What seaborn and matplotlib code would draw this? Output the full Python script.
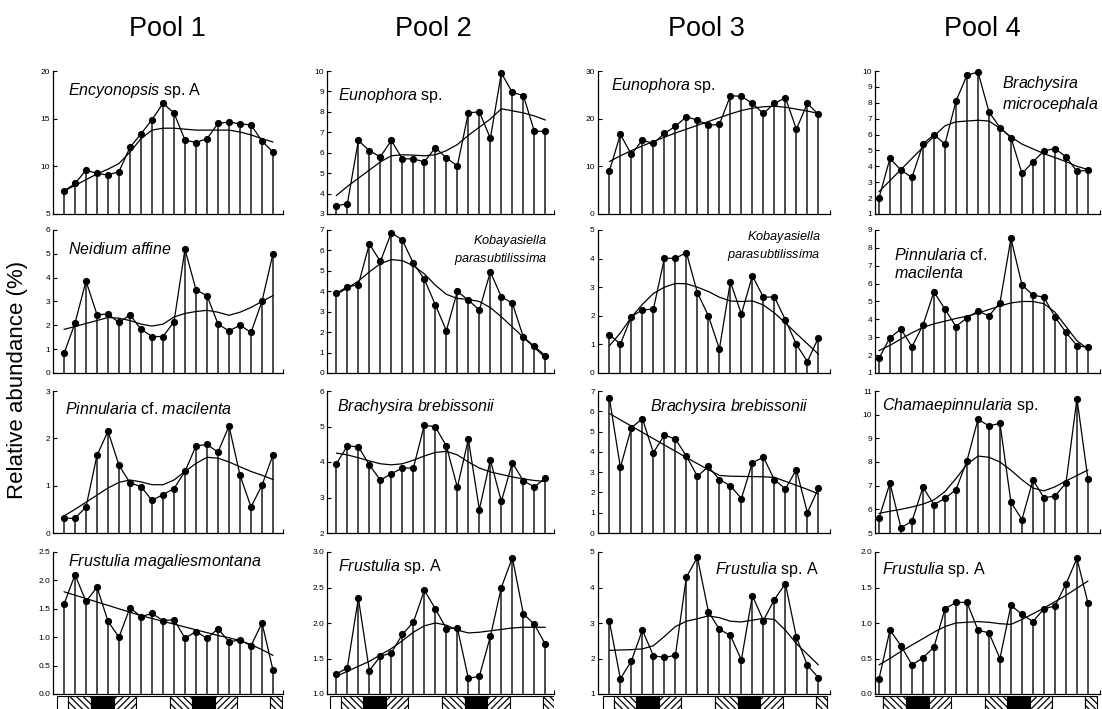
import numpy as np
import matplotlib
matplotlib.use("Agg")
import matplotlib.pyplot as plt
import seaborn as sns
from matplotlib.ticker import FormatStrFormatter

# ---------------------------------------------------------------- data
sample = np.arange(20)
pools = ["Pool 1", "Pool 2", "Pool 3", "Pool 4"]

# Row 1
p1_encyonopsis = [7.4, 8.2, 9.6, 9.25, 9.1, 9.45, 12.0, 13.4, 14.9, 16.6,
                  15.6, 12.75, 12.5, 12.9, 14.5, 14.65, 14.45, 14.35, 12.65, 11.5]
p1_encyonopsis_fit = [7.4, 8.0, 8.6, 9.2, 9.7, 10.3, 11.5, 12.9, 13.8, 14.0,
                      14.0, 13.9, 13.8, 13.8, 13.8, 13.8, 13.6, 13.3, 12.9, 12.55]
p2_eunophora = [3.4, 3.5, 6.6, 6.1, 5.8, 6.6, 5.7, 5.7, 5.55, 6.25,
                5.75, 5.35, 7.95, 8.0, 6.7, 9.9, 8.95, 8.8, 7.05, 7.05]
p2_eunophora_fit = [3.9, 4.35, 4.75, 5.15, 5.55, 5.85, 5.9, 5.88, 5.85, 5.9,
                    6.1, 6.4, 6.85, 7.25, 7.65, 8.15, 8.05, 7.95, 7.8, 7.6]
p3_eunophora = [9.0, 16.7, 12.5, 15.5, 14.8, 16.9, 18.4, 20.4, 19.7, 18.6,
                18.8, 24.8, 24.7, 23.2, 21.1, 23.2, 24.4, 17.8, 23.2, 20.9]
p3_eunophora_fit = [11.0, 12.2, 13.3, 14.3, 15.2, 16.1, 17.0, 17.8, 18.6, 19.4,
                    20.2, 21.0, 21.7, 22.2, 22.5, 22.6, 22.4, 22.0, 21.6, 21.1]
p4_microcephala = [2.0, 4.5, 3.76, 3.3, 5.4, 6.0, 5.4, 8.1, 9.73, 9.94,
                   7.43, 6.44, 5.81, 3.55, 4.28, 4.97, 5.12, 4.6, 3.68, 3.76]
p4_microcephala_fit = [2.4, 3.1, 3.8, 4.5, 5.2, 5.9, 6.55, 6.8, 6.85, 6.9,
                       6.85, 6.4, 5.85, 5.4, 5.1, 4.8, 4.55, 4.3, 4.0, 3.8]

# Row 2
p1_neidium = [0.82, 2.09, 3.86, 2.45, 2.47, 2.12, 2.44, 1.84, 1.53, 1.53,
              2.15, 5.19, 3.49, 3.24, 2.06, 1.76, 2.01, 1.7, 3.01, 5.01]
p1_neidium_fit = [1.83, 1.95, 2.08, 2.2, 2.33, 2.3, 2.2, 2.05, 1.97, 2.05,
                  2.35, 2.5, 2.58, 2.63, 2.55, 2.42, 2.55, 2.75, 3.0, 3.25]
p2_kobayasiella = [3.9, 4.22, 4.32, 6.32, 5.46, 6.87, 6.51, 5.37, 4.59, 3.34,
                   2.07, 3.99, 3.57, 3.08, 4.95, 3.73, 3.42, 1.76, 1.3, 0.85]
p2_kobayasiella_fit = [3.86, 4.15, 4.5, 4.95, 5.35, 5.55, 5.5, 5.25, 4.85, 4.3,
                       3.85, 3.65, 3.6, 3.5, 3.2, 2.75, 2.25, 1.75, 1.25, 0.75]
p3_kobayasiella = [1.34, 1.01, 1.97, 2.21, 2.23, 4.01, 4.01, 4.21, 2.81, 2.0,
                   0.84, 3.19, 2.06, 3.4, 2.65, 2.66, 1.86, 1.0, 0.4, 1.23]
p3_kobayasiella_fit = [0.95, 1.4, 1.95, 2.4, 2.78, 3.0, 3.13, 3.12, 3.0, 2.85,
                       2.65, 2.52, 2.5, 2.52, 2.38, 2.1, 1.75, 1.38, 1.02, 0.66]
p4_pinnularia = [1.82, 2.97, 3.46, 2.47, 3.68, 5.54, 4.57, 3.6, 4.09, 4.46,
                 4.2, 4.93, 8.53, 5.93, 5.36, 5.24, 4.13, 3.27, 2.53, 2.43]
p4_pinnularia_fit = [2.25, 2.55, 2.9, 3.25, 3.55, 3.75, 3.9, 4.05, 4.18, 4.35,
                     4.55, 4.75, 4.92, 5.0, 5.0, 4.88, 4.4, 3.6, 2.8, 2.35]

# Row 3
p1_pinnularia = [0.31, 0.31, 0.55, 1.64, 2.15, 1.43, 1.06, 0.98, 0.69, 0.81,
                 0.94, 1.3, 1.84, 1.87, 1.71, 2.26, 1.22, 0.55, 1.01, 1.65]
p1_pinnularia_fit = [0.36, 0.5, 0.65, 0.8, 0.95, 1.07, 1.12, 1.08, 1.02, 1.02,
                     1.12, 1.3, 1.47, 1.6, 1.58, 1.5, 1.4, 1.3, 1.22, 1.13]
p2_brebissonii = [3.95, 4.45, 4.43, 3.92, 3.49, 3.67, 3.83, 3.83, 5.04, 4.99,
                  4.45, 3.29, 4.64, 2.66, 4.06, 2.89, 3.98, 3.47, 3.3, 3.55]
p2_brebissonii_fit = [4.25, 4.2, 4.12, 4.03, 3.95, 3.92, 3.95, 4.05, 4.17, 4.27,
                      4.3, 4.2, 4.0, 3.83, 3.72, 3.65, 3.58, 3.52, 3.48, 3.45]
p3_brebissonii = [6.66, 3.23, 5.19, 5.64, 3.96, 4.83, 4.63, 3.8, 2.79, 3.28,
                  2.63, 2.33, 1.7, 3.46, 3.74, 2.63, 2.17, 3.12, 1.0, 2.2]
p3_brebissonii_fit = [5.89, 5.58, 5.27, 4.96, 4.65, 4.34, 4.03, 3.72, 3.42, 3.12,
                      2.84, 2.8, 2.79, 2.78, 2.77, 2.74, 2.55, 2.35, 2.15, 1.93]
p4_chamaepinnularia = [5.62, 7.11, 5.22, 5.5, 6.93, 6.2, 6.46, 6.83, 8.05, 9.8,
                       9.53, 9.63, 6.3, 5.57, 7.24, 6.49, 6.56, 7.11, 10.68, 7.27]
p4_chamaepinnularia_fit = [5.83, 5.92, 6.0, 6.1, 6.22, 6.4, 6.75, 7.3, 7.9, 8.25,
                           8.2, 8.0, 7.65, 7.25, 6.9, 6.78, 6.95, 7.2, 7.43, 7.66]

# Row 4
p1_frustulia = [1.58, 2.1, 1.63, 1.88, 1.28, 1.0, 1.52, 1.36, 1.42, 1.29,
                1.31, 0.98, 1.1, 0.98, 1.15, 0.92, 0.95, 0.85, 1.25, 0.42]
p1_frustulia_fit = [1.8, 1.74, 1.68, 1.62, 1.56, 1.5, 1.44, 1.38, 1.33, 1.28,
                    1.23, 1.18, 1.13, 1.08, 1.03, 0.99, 0.94, 0.87, 0.78, 0.68]
p2_frustulia = [1.28, 1.37, 2.35, 1.33, 1.53, 1.58, 1.84, 2.01, 2.46, 2.2,
                1.92, 1.93, 1.22, 1.25, 1.81, 2.5, 2.92, 2.13, 1.98, 1.7]
p2_frustulia_fit = [1.25, 1.32, 1.39, 1.46, 1.55, 1.64, 1.75, 1.87, 1.96, 2.0,
                    1.97, 1.9, 1.86, 1.87, 1.89, 1.91, 1.93, 1.94, 1.94, 1.94]
p3_frustulia = [3.05, 1.43, 1.93, 2.8, 2.08, 2.03, 2.09, 4.29, 4.85, 3.32,
                2.82, 2.65, 1.96, 3.77, 3.07, 3.66, 4.11, 2.6, 1.81, 1.46]
p3_frustulia_fit = [2.23, 2.24, 2.25, 2.27, 2.36, 2.62, 2.9, 3.05, 3.12, 3.2,
                    3.15, 3.05, 3.03, 3.08, 3.13, 3.1, 2.8, 2.42, 2.12, 1.82]
p4_frustulia = [0.21, 0.9, 0.68, 0.41, 0.51, 0.66, 1.2, 1.29, 1.29, 0.9,
                0.86, 0.5, 1.25, 1.12, 1.02, 1.2, 1.24, 1.55, 1.91, 1.28]
p4_frustulia_fit = [0.41, 0.5, 0.6, 0.69, 0.78, 0.87, 0.95, 1.0, 1.01, 1.02,
                    1.01, 0.99, 0.98, 1.05, 1.13, 1.21, 1.3, 1.39, 1.49, 1.59]

# Seasonal bar under the bottom panels (edges in sample units)
season_edges = [-0.6, 0.4, 2.45, 4.55, 6.55, 9.6, 11.65, 13.7, 15.75, 18.75, 19.8]
seasons = ["summer", "autumn", "winter", "spring", "summer",
           "autumn", "winter", "spring", "summer", "autumn"]

# ---------------------------------------------------------------- panels
# (values, fitted trend, label, ymin, ymax, ystep, tick format,
#  label x, label y, label ha, label size)
panels = [
    [(p1_encyonopsis, p1_encyonopsis_fit, r"$\mathit{Encyonopsis}$ sp. A", 5, 20, 5, "%d", 0.065, 0.865, "left", 11.5),
     (p2_eunophora, p2_eunophora_fit, r"$\mathit{Eunophora}$ sp.", 3, 10, 1, "%d", 0.05, 0.83, "left", 11.5),
     (p3_eunophora, p3_eunophora_fit, r"$\mathit{Eunophora}$ sp.", 0, 30, 10, "%d", 0.06, 0.90, "left", 11.5),
     (p4_microcephala, p4_microcephala_fit, r"$\mathit{Brachysira}$" "\n" r"$\mathit{microcephala}$", 1, 10, 1, "%d", 0.566, 0.84, "left", 11.5)],
    [(p1_neidium, p1_neidium_fit, r"$\mathit{Neidium\ affine}$", 0, 6, 1, "%d", 0.065, 0.87, "left", 11.5),
     (p2_kobayasiella, p2_kobayasiella_fit, r"$\mathit{Kobayasiella}$" "\n" r"$\mathit{parasubtilissima}$", 0, 7, 1, "%d", 0.97, 0.86, "right", 9.2),
     (p3_kobayasiella, p3_kobayasiella_fit, r"$\mathit{Kobayasiella}$" "\n" r"$\mathit{parasubtilissima}$", 0, 5, 1, "%d", 0.96, 0.89, "right", 9.2),
     (p4_pinnularia, p4_pinnularia_fit, r"$\mathit{Pinnularia}$ cf." "\n" r"$\mathit{macilenta}$", 1, 9, 1, "%d", 0.085, 0.76, "left", 11.5)],
    [(p1_pinnularia, p1_pinnularia_fit, r"$\mathit{Pinnularia}$ cf. $\mathit{macilenta}$", 0, 3, 1, "%d", 0.05, 0.87, "left", 11.5),
     (p2_brebissonii, p2_brebissonii_fit, r"$\mathit{Brachysira\ brebissonii}$", 2, 6, 1, "%d", 0.045, 0.89, "left", 11.5),
     (p3_brebissonii, p3_brebissonii_fit, r"$\mathit{Brachysira\ brebissonii}$", 0, 7, 1, "%d", 0.225, 0.89, "left", 11.5),
     (p4_chamaepinnularia, p4_chamaepinnularia_fit, r"$\mathit{Chamaepinnularia}$ sp.", 5, 11, 1, "%d", 0.03, 0.90, "left", 11.5)],
    [(p1_frustulia, p1_frustulia_fit, r"$\mathit{Frustulia\ magaliesmontana}$", 0, 2.5, 0.5, "%.1f", 0.065, 0.93, "left", 11.5),
     (p2_frustulia, p2_frustulia_fit, r"$\mathit{Frustulia}$ sp. A", 1, 3, 0.5, "%.1f", 0.05, 0.90, "left", 11.5),
     (p3_frustulia, p3_frustulia_fit, r"$\mathit{Frustulia}$ sp. A", 1, 5, 1, "%d", 0.505, 0.88, "left", 11.5),
     (p4_frustulia, p4_frustulia_fit, r"$\mathit{Frustulia}$ sp. A", 0, 2, 0.5, "%.1f", 0.03, 0.88, "left", 11.5)],
]

# ---------------------------------------------------------------- style
sns.set_theme(style="ticks")
plt.rcParams["font.family"] = ["Liberation Sans", "DejaVu Sans"]
plt.rcParams["mathtext.fontset"] = "custom"
plt.rcParams["mathtext.it"] = "Liberation Sans:italic"
plt.rcParams["mathtext.rm"] = "Liberation Sans"
plt.rcParams["mathtext.bf"] = "Liberation Sans:bold"
plt.rcParams["hatch.linewidth"] = 0.9
plt.rcParams["text.color"] = "black"
plt.rcParams["axes.labelcolor"] = "black"
plt.rcParams["xtick.color"] = "black"
plt.rcParams["ytick.color"] = "black"

W, H = 1102, 709
fig = plt.figure(figsize=(W / 100, H / 100), dpi=100)

col_spine = [53, 327, 597.5, 875]
col_xlim = [(-1.0, 19.95), (-0.85, 19.77), (-1.08, 20.05), (-0.36, 20.1)]
step_px = 11.0
row_px = [(71, 214), (230, 373), (391, 533), (552, 694)]

season_style = {
    "summer": dict(color="white", hatch=None),
    "autumn": dict(color="white", hatch="\\\\\\\\\\"),
    "winter": dict(color="black", hatch=None),
    "spring": dict(color="white", hatch="/////"),
}

for r in range(4):
    for c in range(4):
        vals, fit, label, y0, y1, ystep, fmt, lx, ly, lha, lsize = panels[r][c]
        xl = col_xlim[c]
        left = col_spine[c] / W
        width = (xl[1] - xl[0]) * step_px / W
        bottom = 1 - row_px[r][1] / H
        height = (row_px[r][1] - row_px[r][0]) / H
        ax = fig.add_axes([left, bottom, width, height])

        ax.vlines(sample, y0, vals, color="#1a1a1a", lw=1.1, zorder=1)
        sns.lineplot(x=sample, y=vals, ax=ax, color="black", lw=0.9,
                     marker="o", markersize=5.2, markeredgewidth=0,
                     clip_on=False, zorder=3)
        sns.lineplot(x=sample, y=fit, ax=ax, color="black", lw=0.9,
                     clip_on=False, zorder=2)

        ax.set_xlim(*xl)
        ax.set_ylim(y0, y1)
        ax.set_yticks(np.arange(y0, y1 + ystep / 2, ystep))
        ax.yaxis.set_major_formatter(FormatStrFormatter(fmt))
        ax.set_xticks([xl[1]])
        ax.set_xticklabels([])
        ax.tick_params(axis="y", direction="in", length=3, width=0.8,
                       labelsize=6, pad=2, colors="black")
        ax.tick_params(axis="x", direction="in", length=3, width=0.8)
        ax.set_xlabel("")
        ax.set_ylabel("")
        for side in ("top", "right"):
            ax.spines[side].set_visible(False)
        for side in ("left", "bottom"):
            ax.spines[side].set_linewidth(0.9)
            ax.spines[side].set_color("black")

        ax.text(lx, ly, label, transform=ax.transAxes, ha=lha, va="center",
                fontsize=lsize, multialignment=lha, linespacing=1.15,
                color="black")

        if r == 3:
            sax = fig.add_axes([left, 1 - 718 / H, width, 22 / H])
            sax.set_xlim(*xl)
            sax.set_ylim(0, 1)
            sax.axis("off")
            for i, s in enumerate(seasons):
                st = season_style[s]
                sax.bar(season_edges[i], 1, width=season_edges[i + 1] - season_edges[i],
                        bottom=0, align="edge", color=st["color"], hatch=st["hatch"],
                        edgecolor="black", linewidth=0.8)

for c, name in enumerate(pools):
    xc = [167, 433, 706, 982][c]
    fig.text(xc / W, 1 - 29 / H, name, ha="center", va="center",
             fontsize=19.5, color="black")

fig.text(18 / W, 1 - 380 / H, "Relative abundance (%)", rotation=90,
         ha="center", va="center", fontsize=16, color="black")

fig.savefig("out.png", dpi=100)
